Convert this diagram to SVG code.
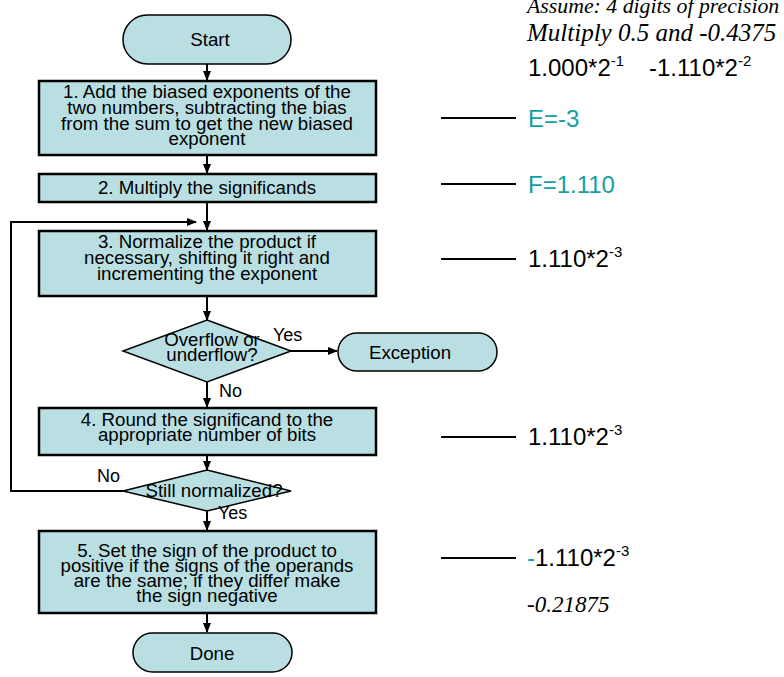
<svg xmlns="http://www.w3.org/2000/svg" width="784" height="677" viewBox="0 0 784 677">
<defs>
<marker id="ah" markerWidth="10" markerHeight="10" refX="9" refY="5" orient="auto" markerUnits="userSpaceOnUse">
<path d="M0,1 L10,5 L0,9 z" fill="#000"/>
</marker>
<style>
.n{fill:#b9dfe3;stroke:#000;stroke-width:2.5}
.p{fill:#b9dfe3;stroke:#000;stroke-width:1.5}
.t{font-family:"Liberation Sans",Arial,sans-serif;font-size:18.7px;fill:#000;text-anchor:middle}
.l{font-family:"Liberation Sans",Arial,sans-serif;font-size:18px;fill:#000}
.c{stroke:#000;stroke-width:2;fill:none}
.r{font-family:"Liberation Sans",Arial,sans-serif;font-size:24px;fill:#000}
.g{fill:#12a0a6}
.i{font-family:"Liberation Serif","Times New Roman",serif;font-style:italic;fill:#000}
.s{font-size:15px}
</style>
</defs>
<rect width="784" height="677" fill="#fff"/>

<g id="connectors">
<line class="c" x1="207" y1="64" x2="207" y2="80" marker-end="url(#ah)"/>
<line class="c" x1="207" y1="155" x2="207" y2="173" marker-end="url(#ah)"/>
<line class="c" x1="207" y1="202" x2="207" y2="230" marker-end="url(#ah)"/>
<polyline class="c" points="123,491 11,491 11,222 196,222" marker-end="url(#ah)"/>
<line class="c" x1="207" y1="296" x2="207" y2="320" marker-end="url(#ah)"/>
<line class="c" x1="291" y1="351" x2="337" y2="351" marker-end="url(#ah)"/>
<line class="c" x1="207" y1="382" x2="207" y2="407" marker-end="url(#ah)"/>
<line class="c" x1="207" y1="455" x2="207" y2="470" marker-end="url(#ah)"/>
<line class="c" x1="207" y1="510" x2="207" y2="530" marker-end="url(#ah)"/>
<line class="c" x1="207" y1="613" x2="207" y2="632" marker-end="url(#ah)"/>
<line class="c" x1="441" y1="118" x2="516" y2="118"/>
<line class="c" x1="441" y1="184" x2="516" y2="184"/>
<line class="c" x1="441" y1="259" x2="516" y2="259"/>
<line class="c" x1="441" y1="437" x2="516" y2="437"/>
<line class="c" x1="441" y1="558" x2="516" y2="558"/>
</g>

<g id="start">
<rect class="p" x="123" y="15" width="168" height="49" rx="24.5"/>
<text class="t" x="210" y="46">Start</text>
</g>

<g id="step1">
<rect class="n" x="39" y="81" width="337" height="74"/>
<text class="t" x="207" y="98">1. Add the biased exponents of the</text>
<text class="t" x="207" y="114">two numbers, subtracting the bias</text>
<text class="t" x="207" y="130">from the sum to get the new biased</text>
<text class="t" x="207" y="145">exponent</text>
</g>

<g id="step2">
<rect class="n" x="39" y="174" width="337" height="28"/>
<text class="t" x="207" y="194">2. Multiply the significands</text>
</g>

<g id="step3">
<rect class="n" x="39" y="231" width="337" height="65"/>
<text class="t" x="207" y="248">3. Normalize the product if</text>
<text class="t" x="207" y="264">necessary, shifting it right and</text>
<text class="t" x="207" y="280">incrementing the exponent</text>
</g>

<g id="overflow">
<polygon class="p" points="207,320 291,351 207,382 123,351"/>
<text class="t" x="212" y="346">Overflow or</text>
<text class="t" x="212" y="361">underflow?</text>
</g>
<text class="l" x="273" y="341">Yes</text>
<text class="l" x="219" y="397">No</text>

<g id="exception">
<rect class="p" x="338" y="333" width="159" height="38" rx="19"/>
<text class="t" x="410" y="359">Exception</text>
</g>

<g id="step4">
<rect class="n" x="39" y="408" width="337" height="47"/>
<text class="t" x="207" y="426">4. Round the significand to the</text>
<text class="t" x="207" y="441">appropriate number of bits</text>
</g>

<g id="normalized">
<polygon class="p" points="207,470 291,491 207,511 123,491"/>
<text class="t" x="214" y="497">Still normalized?</text>
</g>
<text class="l" x="97" y="482">No</text>
<text class="l" x="218" y="519">Yes</text>

<g id="step5">
<rect class="n" x="39" y="531" width="337" height="82"/>
<text class="t" x="207" y="557">5. Set the sign of the product to</text>
<text class="t" x="207" y="572">positive if the signs of the operands</text>
<text class="t" x="207" y="587">are the same; if they differ make</text>
<text class="t" x="207" y="602">the sign negative</text>
</g>

<g id="done">
<rect class="p" x="133" y="633" width="159" height="39" rx="19.5"/>
<text class="t" x="212" y="660">Done</text>
</g>

<g id="notes">
<text class="i" x="527" y="13" font-size="21.8">Assume: 4 digits of precision</text>
<text class="i" x="527" y="41" font-size="25">Multiply 0.5 and -0.4375</text>
<text class="r" x="528" y="76">1.000*2<tspan class="s" dy="-10">-1</tspan></text>
<text class="r" x="649" y="76">-1.110*2<tspan class="s" dy="-10">-2</tspan></text>
<text class="r g" x="528" y="127">E=-3</text>
<text class="r g" x="528" y="193">F=1.110</text>
<text class="r" x="528" y="267">1.110*2<tspan class="s" dy="-10">-3</tspan></text>
<text class="r" x="528" y="445">1.110*2<tspan class="s" dy="-10">-3</tspan></text>
<text class="r" x="527" y="566"><tspan class="g">-</tspan>1.110*2<tspan class="s" dy="-10">-3</tspan></text>
<text class="i" x="527" y="612" font-size="23">-0.21875</text>
</g>
</svg>
